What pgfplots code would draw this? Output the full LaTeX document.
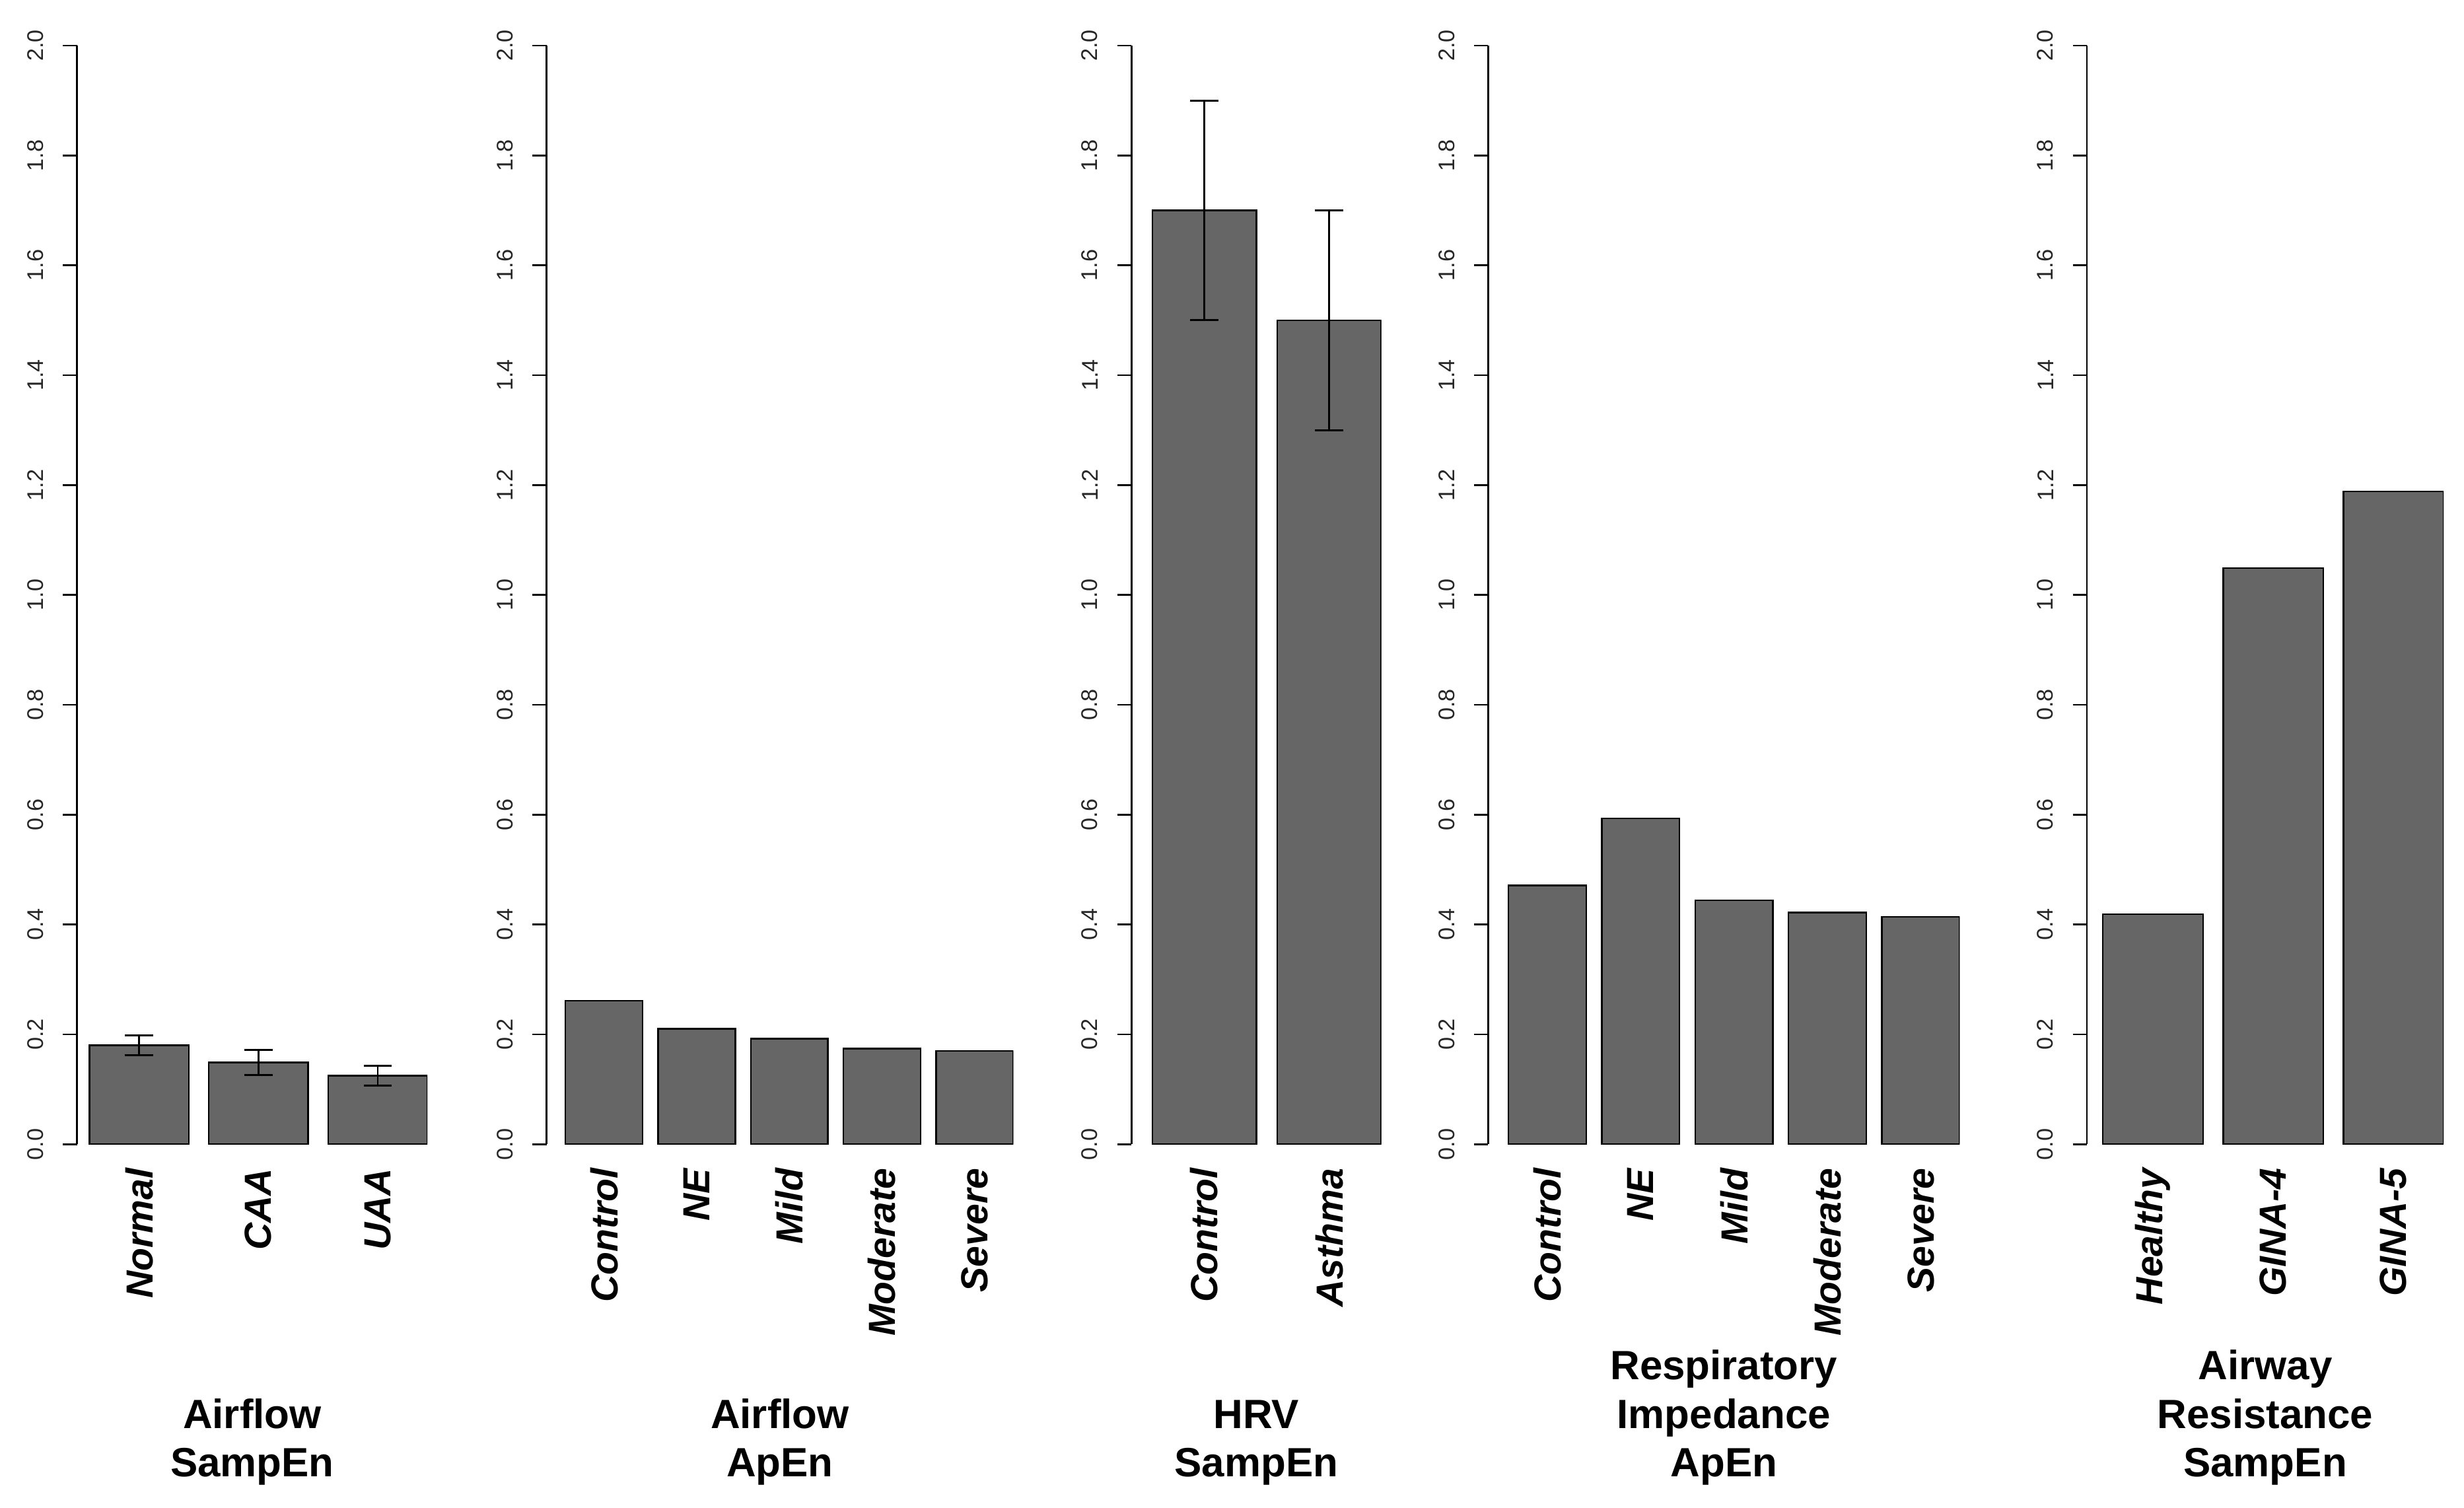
\documentclass[border=0pt]{standalone}
\usepackage{fontspec}
\setmainfont{Liberation Sans}
\usepackage{pgfplots}
\pgfplotsset{compat=1.18}

\pgfplotsset{
  panel/.style={
    scale only axis, height=349.5pt,
    anchor=origin,
    ymin=0, ymax=2,
    ytick={0,0.2,0.4,0.6,0.8,1.0,1.2,1.4,1.6,1.8,2.0},
    yticklabel style={/pgf/number format/fixed, /pgf/number format/fixed zerofill, /pgf/number format/precision=1, /pgf/number format/assume math mode=true},
    yticklabel style={rotate=90, anchor=south, inner sep=0pt, font=\fontsize{7.2}{8}\selectfont, text=black!85},
    yticklabel shift=6pt,
    axis lines*=left,
    x axis line style={draw=none},
    y axis line style={black, line width=0.6pt},
    tick align=outside,
    major tick length=4.5pt,
    ytick style={black, line width=0.6pt},
    xtick style={draw=none},
    xticklabel style={rotate=90, anchor=east, inner sep=0pt, font=\bfseries\itshape\fontsize{12}{14}\selectfont},
    xticklabel shift=3pt,
    xlabel style={at={(axis description cs:0.5,0)}, anchor=south, yshift=-108.7pt, inner sep=0pt, align=center, font=\bfseries\fontsize{13}{15.5}\selectfont},
  },
  bars/.style={ybar, bar width=1, fill=black!60, draw=black, line width=0.5pt},
  ebars/.style={error bars/y dir=both, error bars/y explicit,
    error bars/error mark=-,
    error bars/error bar style={black, line width=0.6pt},
    error bars/error mark options={rotate=90, black, line width=0.6pt, mark size=4.5pt}},
}

\begin{document}
\begin{tikzpicture}
\useasboundingbox (0,-115.7pt) rectangle (784pt,364pt);

% Panel 1: Airflow SampEn
\begin{axis}[panel, at={(24.5pt,0)}, width=111.5pt, xmin=0.075, xmax=3.6,
  xtick={0.7,1.9,3.1}, xticklabels={Normal,CAA,UAA},
  xlabel={Airflow\\SampEn}]
\addplot[bars, ebars] coordinates {
  (0.7,0.180) +- (0,0.018)
  (1.9,0.149) +- (0,0.023)
  (3.1,0.125) +- (0,0.018)
};
\end{axis}

% Panel 2: Airflow ApEn
\begin{axis}[panel, at={(175pt,0)}, width=148.5pt, xmin=-0.045, xmax=6.0,
  xtick={0.7,1.9,3.1,4.3,5.5}, xticklabels={Control,NE,Mild,Moderate,Severe},
  xlabel={Airflow\\ApEn}]
\addplot[bars] coordinates {
  (0.7,0.261) (1.9,0.210) (3.1,0.192) (4.3,0.174) (5.5,0.170)
};
\end{axis}

% Panel 3: HRV SampEn
\begin{axis}[panel, at={(360pt,0)}, width=79.5pt, xmin=0.0, xmax=2.4,
  xtick={0.7,1.9}, xticklabels={Control,Asthma},
  xlabel={HRV\\SampEn}]
\addplot[bars, ebars] coordinates {
  (0.7,1.70) +- (0,0.20)
  (1.9,1.50) +- (0,0.20)
};
\end{axis}

% Panel 4: Respiratory Impedance ApEn
\begin{axis}[panel, at={(475pt,0)}, width=150pt, xmin=-0.06, xmax=6.0,
  xtick={0.7,1.9,3.1,4.3,5.5}, xticklabels={Control,NE,Mild,Moderate,Severe},
  xlabel={Respiratory\\Impedance\\ApEn}]
\addplot[bars] coordinates {
  (0.7,0.471) (1.9,0.593) (3.1,0.444) (4.3,0.422) (5.5,0.414)
};
\end{axis}

% Panel 5: Airway Resistance SampEn
\begin{axis}[panel, at={(664pt,0)}, width=113.5pt, xmin=0.04, xmax=3.6,
  xtick={0.7,1.9,3.1}, xticklabels={Healthy,GINA-4,GINA-5},
  xlabel={Airway\\Resistance\\SampEn}]
\addplot[bars] coordinates {
  (0.7,0.419) (1.9,1.049) (3.1,1.188)
};
\end{axis}
\end{tikzpicture}
\end{document}
